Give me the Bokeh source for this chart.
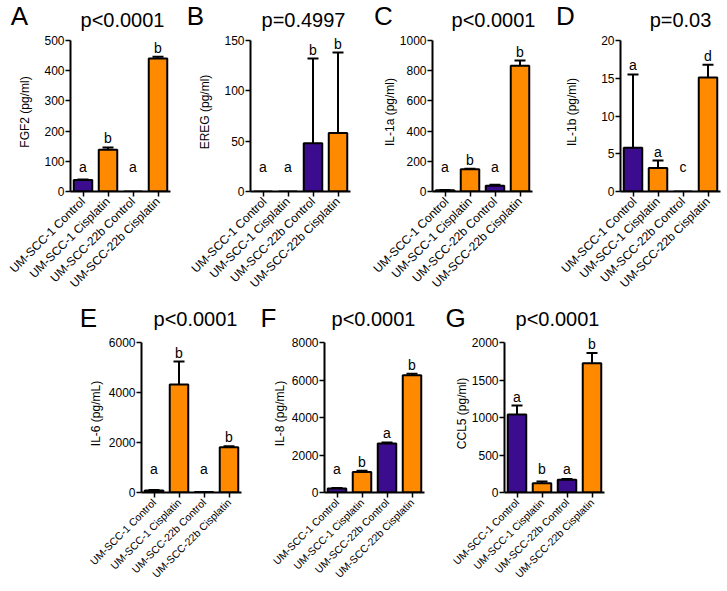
from bokeh.plotting import figure
from bokeh.models import Range1d, FactorRange, FixedTicker, Whisker, ColumnDataSource, TeeHead
from bokeh.layouts import row, column
from bokeh.embed import file_html
from bokeh.resources import INLINE
from bokeh.core.properties import value
import math

groups = ["UM-SCC-1 Control", "UM-SCC-1 Cisplatin", "UM-SCC-22b Control", "UM-SCC-22b Cisplatin"]
bar_colors = ["#3C0C8E", "#FF8A00", "#3C0C8E", "#FF8A00"]

fgf2 = [38, 138, 0, 440]
fgf2_err = [2, 8, 0, 6]
fgf2_sig = ["a", "b", "a", "b"]

ereg = [0, 0, 48, 58]
ereg_err = [0, 0, 84, 80]
ereg_sig = ["a", "a", "b", "b"]

il1a = [8, 148, 38, 832]
il1a_err = [2, 3, 6, 35]
il1a_sig = ["a", "b", "a", "b"]

il1b = [5.8, 3.1, 0, 15.1]
il1b_err = [9.7, 1.0, 0, 1.7]
il1b_sig = ["a", "a", "c", "d"]

il6 = [80, 4320, 20, 1810]
il6_err = [20, 920, 5, 40]
il6_sig = ["a", "b", "a", "b"]

il8 = [220, 1090, 2620, 6260]
il8_err = [20, 70, 50, 70]
il8_sig = ["a", "b", "a", "b"]

ccl5 = [1040, 125, 170, 1725]
ccl5_err = [120, 22, 10, 135]
ccl5_sig = ["a", "b", "a", "b"]

FONT = "Liberation Sans"
HEADROOM = 8
FRAME_W = 100
PAGE_W = 727


def panel(ylabel, vals, errs, sigs, ymax, ticks, width, left, row_cfg, ylab_standoff):
    height, ymax_px, xfont = row_cfg
    right = width - left - FRAME_W
    y_end = ymax * (ymax_px + HEADROOM) / ymax_px
    p = figure(width=width, height=height, x_range=FactorRange(factors=groups),
               y_range=Range1d(0, y_end), output_backend="svg", toolbar_location=None,
               min_border_left=left, min_border_right=right, min_border_top=1,
               min_border_bottom=0)
    p.outline_line_color = None
    p.xgrid.visible = False
    p.ygrid.visible = False
    p.background_fill_color = "white"
    p.border_fill_color = "white"

    src = ColumnDataSource(dict(x=groups, top=vals, color=bar_colors))
    p.vbar(x="x", top="top", width=0.74, fill_color="color", line_color="black",
           line_width=2, source=src)

    wx = [g for g, e in zip(groups, errs) if e > 0]
    wl = [v for v, e in zip(vals, errs) if e > 0]
    wu = [v + e for v, e in zip(vals, errs) if e > 0]
    wsrc = ColumnDataSource(dict(x=wx, lower=wl, upper=wu))
    p.add_layout(Whisker(base="x", lower="lower", upper="upper", source=wsrc,
                         upper_head=TeeHead(size=11, line_width=2, line_color="black"),
                         lower_head=None, line_width=2, line_color="black"))

    sy = [max(v + e, 0.1 * ymax) for v, e in zip(vals, errs)]
    tsrc = ColumnDataSource(dict(x=groups, y=sy, t=sigs))
    p.text(x="x", y="y", text="t", source=tsrc, text_align="center",
           text_baseline="alphabetic", y_offset=-9, text_font=value(FONT),
           text_font_size="14px", text_color="black")

    p.yaxis.ticker = FixedTicker(ticks=ticks)
    p.yaxis.bounds = (0, ymax)
    p.yaxis.axis_label = ylabel
    p.yaxis.axis_label_text_font = FONT
    p.yaxis.axis_label_text_font_style = "normal"
    p.yaxis.axis_label_text_font_size = "12px"
    p.yaxis.axis_label_standoff = ylab_standoff
    p.yaxis.major_label_text_font = FONT
    p.yaxis.major_label_text_font_size = "12px"
    p.yaxis.major_tick_out = 5
    p.yaxis.major_tick_in = 0
    p.yaxis.minor_tick_line_color = None
    p.yaxis.major_label_standoff = 1

    p.xaxis.major_label_orientation = math.pi / 4
    p.xaxis.major_label_text_font = FONT
    p.xaxis.major_label_text_font_size = xfont
    p.xaxis.major_tick_out = 5
    p.xaxis.major_tick_in = 0
    p.xaxis.major_label_standoff = 3

    for ax in (p.xaxis[0], p.yaxis[0]):
        ax.axis_line_width = 2
        ax.axis_line_color = "black"
        ax.major_tick_line_width = 1.5
        ax.major_tick_line_color = "black"
        ax.major_label_text_color = "black"
        ax.axis_label_text_color = "black"
    return p


def header(specs, widths, lefts, hh, ly, py):
    # specs: (letter, p-value, letter offset from y-axis, p-value offset from y-axis)
    h = figure(width=PAGE_W, height=hh, x_range=Range1d(0, PAGE_W), y_range=Range1d(0, hh),
               output_backend="svg", toolbar_location=None, min_border=0,
               x_axis_type=None, y_axis_type=None)
    h.outline_line_color = None
    h.xgrid.visible = False
    h.ygrid.visible = False
    start = 0
    lxs, pxs, letters, pvals = [], [], [], []
    for (letter, pval, lo, po), w, l in zip(specs, widths, lefts):
        axis_x = start + l
        lxs.append(axis_x + lo)
        pxs.append(axis_x + po)
        letters.append(letter)
        pvals.append(pval)
        start += w
    h.text(x=lxs, y=[ly] * len(lxs), text=letters, text_align="center", text_baseline="bottom",
           text_font=value(FONT), text_font_size="26px", text_color="black")
    h.text(x=pxs, y=[py] * len(pxs), text=pvals, text_align="center", text_baseline="bottom",
           text_font=value(FONT), text_font_size="20px", text_color="black")
    return h


# (plot height, px from 0 to ymax, x label font)
TOP = (267, 151, "12px")
BOT = (254, 150, "10.5px")

top_w = [188, 182, 188, 167]
top_l = [70, 62, 62, 62]
bot_w = [262, 180, 176]
bot_l = [141, 62, 62]

pA = panel("FGF2 (pg/ml)", fgf2, fgf2_err, fgf2_sig, 500, [0, 100, 200, 300, 400, 500],
           top_w[0], top_l[0], TOP, 9)
pB = panel("EREG (pg/ml)", ereg, ereg_err, ereg_sig, 150, [0, 50, 100, 150],
           top_w[1], top_l[1], TOP, 9)
pC = panel("IL-1a (pg/ml)", il1a, il1a_err, il1a_sig, 1000, [0, 200, 400, 600, 800, 1000],
           top_w[2], top_l[2], TOP, 0)
pD = panel("IL-1b (pg/ml)", il1b, il1b_err, il1b_sig, 20, [0, 5, 10, 15, 20],
           top_w[3], top_l[3], TOP, 19)

pE = panel("IL-6 (pg/mL)", il6, il6_err, il6_sig, 6000, [0, 2000, 4000, 6000],
           bot_w[0], bot_l[0], BOT, 3)
pF = panel("IL-8 (pg/mL)", il8, il8_err, il8_sig, 8000, [0, 2000, 4000, 6000, 8000],
           bot_w[1], bot_l[1], BOT, 2)
pG = panel("CCL5 (pg/ml)", ccl5, ccl5_err, ccl5_sig, 2000, [0, 500, 1000, 1500, 2000],
           bot_w[2], bot_l[2], BOT, 0)

top_specs = [("A", "p<0.0001", -51, 52), ("B", "p=0.4997", -55, 53),
             ("C", "p<0.0001", -49, 61), ("D", "p=0.03", -55, 60)]
bot_specs = [("E", "p<0.0001", -53, 54), ("F", "p<0.0001", -56, 49),
             ("G", "p<0.0001", -49, 53)]

hTop = header(top_specs, top_w, top_l, 31, 1, 1)
hBot = header(bot_specs, bot_w, bot_l, 35, 1, 4)

layout = column(hTop, row(pA, pB, pC, pD), hBot, row(pE, pF, pG))
open("out.html", "w").write(file_html(layout, INLINE))
